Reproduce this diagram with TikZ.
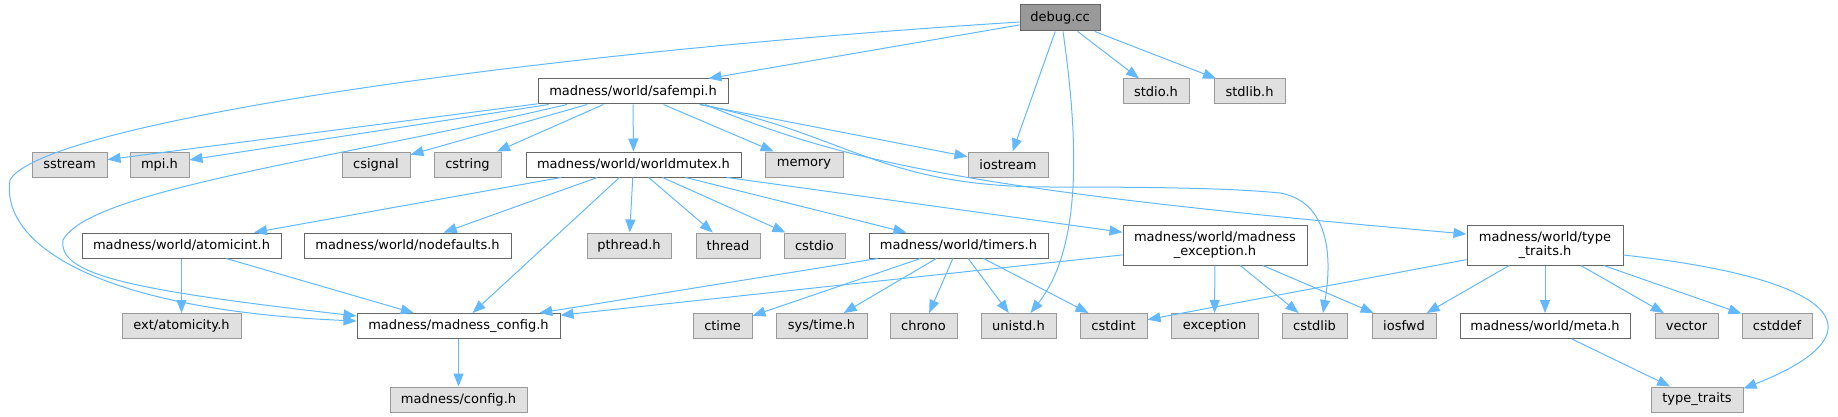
\documentclass[tikz,border=0pt]{standalone}
\usepackage{fontspec}
\setmainfont{DejaVu Sans}
\usepackage{tikz}
\usetikzlibrary{arrows.meta, positioning, calc}
\definecolor{edgeblue}{HTML}{63B8FF}
\definecolor{hdrline}{HTML}{666666}
\definecolor{sysfill}{HTML}{E0E0E0}
\definecolor{sysline}{HTML}{999999}
\definecolor{srcfill}{HTML}{999999}
\tikzset{
  hdr/.style={
    rectangle, draw=hdrline, line width=1pt, fill=white,
    minimum width=#1, minimum height=25pt, inner sep=0pt,
    align=center, font=\fontsize{13}{14.5}\selectfont
  },
  hdrtwo/.style={hdr=#1, minimum height=40pt},
  sys/.style={
    rectangle, draw=sysline, line width=1pt, fill=sysfill,
    minimum width=#1, minimum height=25pt, inner sep=0pt,
    align=center, font=\fontsize{13}{14.5}\selectfont
  },
  srcbox/.style={
    rectangle, draw=hdrline, line width=1pt, fill=srcfill,
    minimum width=#1, minimum height=26pt, inner sep=0pt,
    align=center, font=\fontsize{13}{14.5}\selectfont
  },
  incl/.style={-{Triangle[length=13pt,width=10pt]}, line width=1pt, draw=edgeblue}
}

\begin{document}
\begin{tikzpicture}[x=1pt, y=-1pt]
  \useasboundingbox (0,0) rectangle (1838,417);
  % top file
  \node[srcbox=80] (dbg) at (1060,18) {debug.cc};
  % rank 1
  \node[hdr=190] (safempi) at (633,91.5) {madness/world/safempi.h};
  \node[sys=66] (stdioh) at (1156,91.5) {stdio.h};
  \node[sys=71] (stdlibh) at (1249.5,91.5) {stdlib.h};
  % rank 2
  \node[sys=75] (sstream) at (69.5,164.5) {sstream};
  \node[sys=59] (mpih) at (159.5,164.5) {mpi.h};
  \node[sys=68] (csignal) at (376,164.5) {csignal};
  \node[sys=67] (cstring) at (467.5,164.5) {cstring};
  \node[hdr=215] (wmutex) at (633.5,164.5) {madness/world/worldmutex.h};
  \node[sys=78] (memory) at (804,164.5) {memory};
  \node[sys=80] (iostream) at (1008,164.5) {iostream};
  % rank 3
  \node[hdr=199] (atomicint) at (181.5,245.5) {madness/world/atomicint.h};
  \node[hdr=207] (nodefaults) at (407.5,245.5) {madness/world/nodefaults.h};
  \node[sys=84] (pthread) at (629,245.5) {pthread.h};
  \node[sys=64] (thread) at (728,245.5) {thread};
  \node[sys=61] (cstdio) at (814.5,245.5) {cstdio};
  \node[hdr=179] (timers) at (958.5,245.5) {madness/world/timers.h};
  \node[hdrtwo=184] (mexcept) at (1215,245) {madness/world/madness\\\_exception.h};
  \node[hdrtwo=156] (ttraitsh) at (1545,245) {madness/world/type\\\_traits.h};
  % rank 4
  \node[sys=119] (atomicity) at (181.5,326) {ext/atomicity.h};
  \node[hdr=203] (mconfig) at (458.5,326) {madness/madness\_config.h};
  \node[sys=59] (ctime) at (722.5,326) {ctime};
  \node[sys=91] (systime) at (821.5,326) {sys/time.h};
  \node[sys=67] (chrono) at (923.5,326) {chrono};
  \node[sys=75] (unistd) at (1018.5,326) {unistd.h};
  \node[sys=67] (cstdint) at (1113.5,326) {cstdint};
  \node[sys=87] (exception) at (1214.5,326) {exception};
  \node[sys=65] (cstdlib) at (1314.5,326) {cstdlib};
  \node[sys=64] (iosfwd) at (1404,326) {iosfwd};
  \node[hdr=170] (meta) at (1545,326) {madness/world/meta.h};
  \node[sys=63] (vector) at (1686.5,326) {vector};
  \node[sys=70] (cstddef) at (1777,326) {cstddef};
  % rank 5
  \node[sys=137] (config) at (458.5,399.5) {madness/config.h};
  \node[sys=92] (typetraits) at (1697,399.5) {type\_traits};

  % debug.cc
  \draw[incl] ([yshift=-4pt]dbg.west) .. controls (500,55) and (40,125) .. (10,180)
    .. controls (0,245) and (100,310) .. ([yshift=5pt]mconfig.west);
  \draw[incl] (dbg) -- (safempi);
  \draw[incl] (dbg) -- (iostream);
  \draw[incl] ([xshift=3pt]dbg.south) .. controls (1080,150) and (1080,250) .. ([xshift=12pt]unistd.north);
  \draw[incl] (dbg) -- (stdioh);
  \draw[incl] (dbg) -- (stdlibh);
  % safempi.h
  \draw[incl] (safempi) -- (sstream);
  \draw[incl] (safempi) -- (mpih);
  \draw[incl] ([xshift=-66pt]safempi.south) .. controls (330,160) and (90,190) .. (63,240)
    .. controls (58,275) and (130,290) .. ([yshift=10pt]mconfig.west);
  \draw[incl] (safempi) -- (csignal);
  \draw[incl] (safempi) -- (cstring);
  \draw[incl] (safempi) -- (wmutex);
  \draw[incl] (safempi) -- (memory);
  \draw[incl] (safempi) -- (iostream);
  \draw[incl] ([xshift=67pt]safempi.south) .. controls (850,135) and (880,187) .. (1050,187)
    .. controls (1150,187) and (1230,188) .. (1280,193)
    .. controls (1320,200) and (1335,240) .. ([xshift=8.5pt]cstdlib.north);
  \draw[incl] ([xshift=72pt]safempi.south) .. controls (840,160) and (960,190) .. ([yshift=11pt]ttraitsh.west);
  % worldmutex.h
  \draw[incl] (wmutex) -- (atomicint);
  \draw[incl] (wmutex) -- (nodefaults);
  \draw[incl] (wmutex) -- (mconfig);
  \draw[incl] (wmutex) -- (pthread);
  \draw[incl] (wmutex) -- (thread);
  \draw[incl] (wmutex) -- (cstdio);
  \draw[incl] (wmutex) -- (timers);
  \draw[incl] (wmutex) -- (mexcept);
  % atomicint.h, madness_config.h
  \draw[incl] (atomicint) -- (atomicity);
  \draw[incl] (atomicint) -- (mconfig);
  \draw[incl] (mconfig) -- (config);
  % timers.h
  \draw[incl] (timers) -- (mconfig);
  \draw[incl] (timers) -- (ctime);
  \draw[incl] (timers) -- (systime);
  \draw[incl] (timers) -- (chrono);
  \draw[incl] (timers) -- (unistd);
  \draw[incl] (timers) -- (cstdint);
  % madness_exception.h
  \draw[incl] (mexcept) -- (mconfig);
  \draw[incl] (mexcept) -- (exception);
  \draw[incl] (mexcept) -- (cstdlib);
  \draw[incl] (mexcept) -- (iosfwd);
  % type_traits.h
  \draw[incl] (ttraitsh) -- (cstdint);
  \draw[incl] (ttraitsh) -- (iosfwd);
  \draw[incl] (ttraitsh) -- (meta);
  \draw[incl] (ttraitsh) -- (vector);
  \draw[incl] (ttraitsh) -- (cstddef);
  \draw[incl] ([yshift=-10pt]ttraitsh.east) .. controls (1850,280) and (1880,335) .. ([yshift=-2pt]typetraits.north east);
  \draw[incl] (meta) -- (typetraits);
\end{tikzpicture}
\end{document}
